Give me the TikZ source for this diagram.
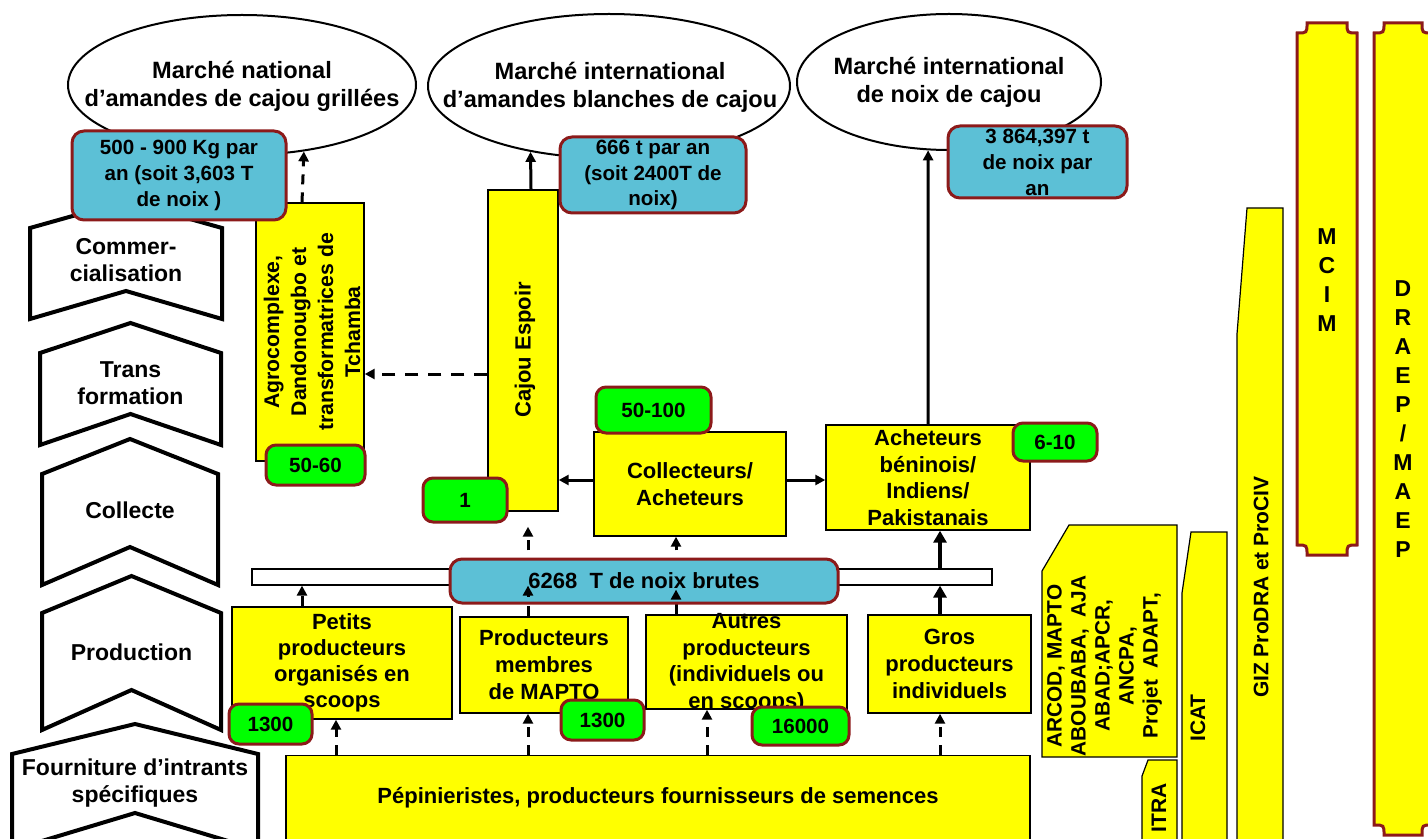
\documentclass[tikz,border=0pt]{standalone}
\usepackage{fontspec}
\setmainfont{Liberation Sans}
\usepackage{tikz}
\usetikzlibrary{shapes.geometric, arrows.meta}

\definecolor{boxyellow}{RGB}{255,255,0}
\definecolor{qtyblue}{RGB}{92,192,214}
\definecolor{numgreen}{RGB}{0,255,0}
\definecolor{rimred}{RGB}{140,26,26}

\newcommand{\fntbox}{\fontsize{11}{13.5}\selectfont\bfseries}
\newcommand{\fntmarket}{\fontsize{11.8}{14}\selectfont\bfseries}
\newcommand{\fntqty}{\fontsize{10.3}{12.8}\selectfont\bfseries}
\newcommand{\fntnum}{\fontsize{10.3}{12}\selectfont\bfseries}
\newcommand{\fntstage}{\fontsize{11.5}{13.5}\selectfont\bfseries}
\newcommand{\fntvert}{\fontsize{10.5}{12}\selectfont\bfseries}

\begin{document}
\begin{tikzpicture}[x=0.5pt, y=-0.5pt,
  box/.style = {draw, fill=boxyellow, line width=0.7pt, inner sep=0pt, align=center, font=\fntbox},
  txt/.style = {inner sep=0pt, align=center, font=\fntbox},
  market/.style = {draw, ellipse, line width=1pt, inner sep=0pt},
  qty/.style = {draw=rimred, fill=qtyblue, line width=1.5pt, rounded corners=6pt, inner sep=0pt, align=center, font=\fntqty},
  num/.style = {draw=rimred, fill=numgreen, line width=1.5pt, rounded corners=5pt, inner sep=0pt, font=\fntnum},
  stageline/.style = {draw, fill=white, line width=2pt, line join=miter},
  actor/.style = {draw, fill=boxyellow, line width=0.6pt},
  plaque/.style = {draw=rimred, fill=boxyellow, line width=1.5pt},
  dashline/.style = {line width=1.5pt, dash pattern=on 5pt off 4pt},
  dasharrow/.style = {dashline, -{Triangle[length=5pt, width=5pt]}},
  solidarrow/.style = {line width=1.5pt, -{Triangle[length=5pt, width=5pt]}},
  bigarrow/.style = {line width=2.2pt, -{Triangle[length=6pt, width=6.5pt]}}]

\useasboundingbox (0,0) rectangle (1428,839);

\foreach \xl/\xr/\ya/\yb/\yn/\yd/\yt/\lbl [count=\i] in {
    30/222/201/228/291/319/260/{Commer-\\cialisation},
    40/221/323/353/414/445/383/{Trans\\formation},
    42/218/439/474/547/585/510/{Collecte},
    42/221/576/613/690/730/652/{Production},
    12/258/724/754/813/850/783/{Fourniture d’intrants\\spécifiques}}
{
  \draw[stageline] (\xl,\yb) -- ({(\xl+\xr)/2},\ya) -- (\xr,\yb) -- (\xr,\yd)
      -- ({(\xl+\xr)/2},\yn) -- (\xl,\yd) -- cycle;
  \node[txt, font=\fntstage] (s\i) at ({(\xl+\xr)/2},\yt) {\lbl};
}

\node[market, minimum width=174pt, minimum height=70pt] (m1) at (242,85) {};
\node[txt, font=\fntmarket] (m1t) at (242,86) {Marché national\\d’amandes de cajou grillées};
\node[market, minimum width=181pt, minimum height=72pt] (m2) at (609,86) {};
\node[txt, font=\fntmarket] (m2t) at (610,87.5) {Marché international\\d’amandes blanches de cajou};
\node[market, minimum width=152pt, minimum height=68pt] (m3) at (949,82) {};
\node[txt, font=\fntmarket] (m3t) at (949,82) {Marché international\\de noix de cajou};

\node[box, minimum width=54pt, minimum height=129pt] (agro) at (310,332) {};
\node[txt, rotate=90, font=\fontsize{10.6}{13.5}\selectfont\bfseries] (agrot) at (312,332)
  {Agrocomplexe,\\Dandonougbo et\\transformatrices de\\Tchamba};
\node[box, minimum width=35pt, minimum height=160.5pt] (cajou) at (523,350.5) {};
\node[txt, rotate=90] (cajout) at (525,350) {Cajou Espoir};
\node[box, minimum width=96pt, minimum height=52pt] (coll) at (690,484) {Collecteurs/\\Acheteurs};
\node[box, minimum width=102pt, minimum height=52.5pt, font=\fontsize{11}{13.25}\selectfont\bfseries]
  (achet) at (928,477.5) {Acheteurs\\béninois/\\Indiens/\\Pakistanais};
\node[box, minimum width=110pt, minimum height=56pt, font=\fontsize{11}{13}\selectfont\bfseries]
  (petits) at (342,663) {Petits\\producteurs\\organisés en\\scoops};
\node[box, minimum width=84pt, minimum height=48pt] (mapto) at (544,665) {Producteurs\\membres\\de MAPTO};
\node[box, minimum width=100.5pt, minimum height=47pt] (autres) at (746.5,662) {};
\node[txt, font=\fontsize{11}{13.25}\selectfont\bfseries] (autrest) at (746.5,663)
  {Autres\\producteurs\\(individuels ou\\en scoops)};
\node[box, minimum width=81.5pt, minimum height=49pt] (gros) at (949.5,664) {Gros\\producteurs\\individuels};
\node[box, minimum width=372pt, minimum height=57pt] (pep) at (658,812.5) {};
\node[txt] (pept) at (658,798) {Pépinieristes, producteurs fournisseurs de semences};

\draw[actor] (1069,525) -- (1177,525) -- (1177,757) -- (1042,757) -- (1042,571) -- cycle;
\node[txt, rotate=90, font=\fontsize{10.4}{12}\selectfont\bfseries] (arcod) at (1104.5,666)
  {ARCOD, MAPTO\\ABOUBABA,\ \ AJA\\ABAD;APCR,\\ANCPA,\\Projet\ \ ADAPT,};
\draw[actor] (1148,760) -- (1177,760) -- (1177,870) -- (1142,870) -- (1142,776) -- cycle;
\node[txt, rotate=90, font=\fntvert] (itra) at (1159,808) {ITRA};
\draw[actor] (1191,532) -- (1227,532) -- (1227,870) -- (1182,870) -- (1182,593) -- cycle;
\node[txt, rotate=90, font=\fntvert] (icat) at (1198,718) {ICAT};
\draw[actor] (1247,208) -- (1283,208) -- (1283,870) -- (1237,870) -- (1237,334) -- cycle;
\node[txt, rotate=90, font=\fntvert] (giz) at (1261,587) {GIZ ProDRA et ProCIV};

\draw[plaque] (1307,23) -- (1347,23) .. controls (1347,33) .. (1357,33) -- (1357,545)
  .. controls (1347,545) .. (1347,555) -- (1307,555) .. controls (1307,545) .. (1297,545)
  -- (1297,33) .. controls (1307,33) .. (1307,23) -- cycle;
\node[txt, font=\fontsize{11.5}{14.5}\selectfont\bfseries] (mcim) at (1327,280) {M\\C\\I\\M};
\draw[plaque] (1384,23) -- (1422,23) .. controls (1422,33) .. (1432,33) -- (1432,825)
  .. controls (1422,825) .. (1422,835) -- (1384,835) .. controls (1384,825) .. (1374,825)
  -- (1374,33) .. controls (1384,33) .. (1384,23) -- cycle;
\node[txt, font=\fontsize{11.5}{14.5}\selectfont\bfseries] (draep) at (1403,419.5) {D\\R\\A\\E\\P\\/\\M\\A\\E\\P};

\node[draw, fill=white, line width=0.6pt, inner sep=0pt, minimum width=370pt, minimum height=8pt] (barre) at (622,577) {};

\coordinate (cA) at (302,0);
\coordinate (cB) at (528,0);
\coordinate (cC) at (676,0);
\coordinate (cE) at (940,0);
\coordinate (cJ) at (531,0);
\coordinate (cP) at (336,0);
\coordinate (cQ) at (707,0);
\coordinate (rT) at (0,374);
\coordinate (rC) at (0,480);

\draw[dasharrow] (agro.north -| cA) -- (m1.-47.6);
\draw[solidarrow] (cajou.north -| cJ) -- (m2.-140.2);
\draw[solidarrow] (achet.north) -- (m3.-107.3);
\draw[dasharrow, dash pattern=on 6.5pt off 5pt] (cajou.west |- rT) -- (agro.east |- rT);
\draw[solidarrow] (coll.west |- rC) -- (cajou.east |- rC);
\draw[solidarrow] (coll.east |- rC) -- (achet.west |- rC);
\draw[dasharrow, shorten >=7.5pt] (barre.north -| cB) -- (cajou.south -| cB);
\draw[dasharrow] (barre.north -| cC) -- (coll.south -| cC);
\draw[bigarrow] (barre.north -| cE) -- (achet.south -| cE);
\draw[bigarrow] (gros.north -| cE) -- (barre.south -| cE);
\draw[dasharrow] (petits.north -| cA) -- (barre.south -| cA);
\draw[dashline] (mapto.north -| cB) -- (barre.south -| cB);
\draw[dashline] (autres.north -| cC) -- (barre.south -| cC);
\draw[dasharrow] (pep.north -| cP) -- (petits.south -| cP);
\draw[dasharrow] (pep.north -| cB) -- (mapto.south -| cB);
\draw[dasharrow] (pep.north -| cQ) -- (autres.south -| cQ);
\draw[dasharrow] (pep.north -| cE) -- (gros.south -| cE);

\node[qty, minimum width=107pt, minimum height=44.5pt] (q1) at (179,175.5) {500 - 900 Kg par\\an (soit 3,603 T\\de noix )};
\node[qty, minimum width=93pt, minimum height=38pt] (q2) at (653,175) {666 t par an\\(soit 2400T de\\noix)};
\node[qty, minimum width=89.5pt, minimum height=36pt, font=\fontsize{10.3}{13}\selectfont\bfseries] (q3) at (1037.5,162) {3 864,397 t\\de noix par\\an};
\node[qty, minimum width=194pt, minimum height=22pt, font=\fntbox] (brutes) at (644,581) {6268\ \ T de noix brutes};

\draw[solidarrow, shorten <=4pt] (brutes.south -| cB) -- (barre.south -| cB);
\draw[solidarrow, shorten <=4pt] (brutes.south -| cC) -- ([yshift=-2pt]barre.south -| cC);

\node[num, minimum width=49.5pt, minimum height=20pt] (n1) at (315.5,465) {50-60};
\node[num, minimum width=42pt, minimum height=22pt] (n2) at (465,500) {1};
\node[num, minimum width=57.5pt, minimum height=23pt] (n3) at (653.5,410) {50-100};
\node[num, minimum width=42pt, minimum height=19pt] (n4) at (1055,442) {6-10};
\node[num, minimum width=41.5pt, minimum height=20pt] (n5) at (270.5,724) {1300};
\node[num, minimum width=41.5pt, minimum height=20pt] (n6) at (602.5,720) {1300};
\node[num, minimum width=48.5pt, minimum height=19pt] (n7) at (800.5,726) {16000};
\end{tikzpicture}
\end{document}
